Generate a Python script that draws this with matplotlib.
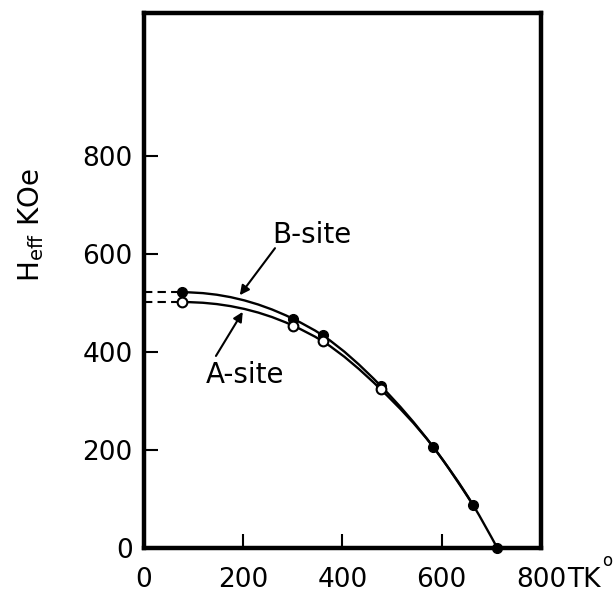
import numpy as np
import matplotlib
matplotlib.use("Agg")
import matplotlib.pyplot as plt
from matplotlib.path import Path
from matplotlib.patches import PathPatch

# Data
T_B = [77, 300, 360, 477, 583, 663, 712]
H_B = [522, 468, 434, 331, 206, 88, 0]
T_A = [77, 300, 360, 477]
H_A = [502, 454, 422, 324]
x_ticks = [0, 200, 400, 600, 800]
y_ticks = [0, 200, 400, 600, 800]


def smooth_path(xs, ys, start_slope=0.0):
    """Cubic Hermite curve through the given points (drawing only)."""
    x = np.asarray(xs, float)
    y = np.asarray(ys, float)
    n = len(x)
    h = np.diff(x)
    d = np.diff(y) / h
    m = np.zeros(n)
    m[0] = start_slope
    for i in range(1, n - 1):
        m[i] = (d[i - 1] * h[i] + d[i] * h[i - 1]) / (h[i - 1] + h[i])
    m[-1] = d[-1] + (d[-1] - m[-2]) * 0.5 if n > 2 else d[-1]
    verts = [(x[0], y[0])]
    codes = [Path.MOVETO]
    for i in range(n - 1):
        c1 = (x[i] + h[i] / 3, y[i] + m[i] * h[i] / 3)
        c2 = (x[i + 1] - h[i] / 3, y[i + 1] - m[i + 1] * h[i] / 3)
        verts += [c1, c2, (x[i + 1], y[i + 1])]
        codes += [Path.CURVE4] * 3
    return Path(verts, codes)


fig = plt.figure(figsize=(6.14, 5.94), dpi=100)
ax = fig.add_axes([0.2345, 0.0774, 0.6466, 0.9007])
ax.set_xlim(0, 800)
ax.set_ylim(0, 1092)

# curves
ax.add_patch(PathPatch(smooth_path(T_B, H_B), fill=False, lw=1.7, color="black"))
ax.add_patch(PathPatch(smooth_path(T_A + T_B[4:6], H_A + H_B[4:6]),
                       fill=False, lw=1.7, color="black"))

# dashed extrapolations to T = 0
ax.plot([0, T_B[0]], [H_B[0], H_B[0]], ls=(0, (4, 2.5)), lw=1.5, color="black")
ax.plot([0, T_A[0]], [H_A[0], H_A[0]], ls=(0, (4, 2.5)), lw=1.5, color="black")

# markers
ax.plot(T_B, H_B, "o", ms=7, color="black", zorder=5, clip_on=False)
ax.plot(T_A, H_A, "o", ms=7, mfc="white", mec="black", mew=1.5, zorder=6)

# annotations
ax.text(339, 639, "B-site", fontsize=20, ha="center", va="center")
ax.annotate("", xy=(193, 516), xytext=(264, 612),
            arrowprops=dict(arrowstyle="-|>", lw=1.5, color="black", mutation_scale=14,
                            shrinkA=0, shrinkB=0))
ax.text(204, 353, "A-site", fontsize=20, ha="center", va="center")
ax.annotate("", xy=(199, 482), xytext=(145, 392),
            arrowprops=dict(arrowstyle="-|>", lw=1.5, color="black", mutation_scale=14,
                            shrinkA=0, shrinkB=0))

# axes styling
for s in ax.spines.values():
    s.set_linewidth(3.2)
ax.set_xticks(x_ticks)
ax.set_yticks(y_ticks)
ax.set_xticklabels([str(v) for v in x_ticks])
ax.set_yticklabels([str(v) for v in y_ticks])
ax.tick_params(axis="both", direction="in", length=10, width=1.5, labelsize=19)
ax.tick_params(axis="x", pad=14)
ax.tick_params(axis="y", pad=8)

fig.text(31 / 614, 1 - 225 / 594, r"H$_{\rm eff}$ KOe", rotation=90,
         fontsize=20, ha="center", va="center")
fig.text(567 / 614, 1 - 587 / 594, "TK", fontsize=19, ha="left", va="baseline")
fig.text(602 / 614, 1 - 552 / 594, "o", fontsize=12, ha="left", va="top")

fig.savefig("out.png", dpi=100)
